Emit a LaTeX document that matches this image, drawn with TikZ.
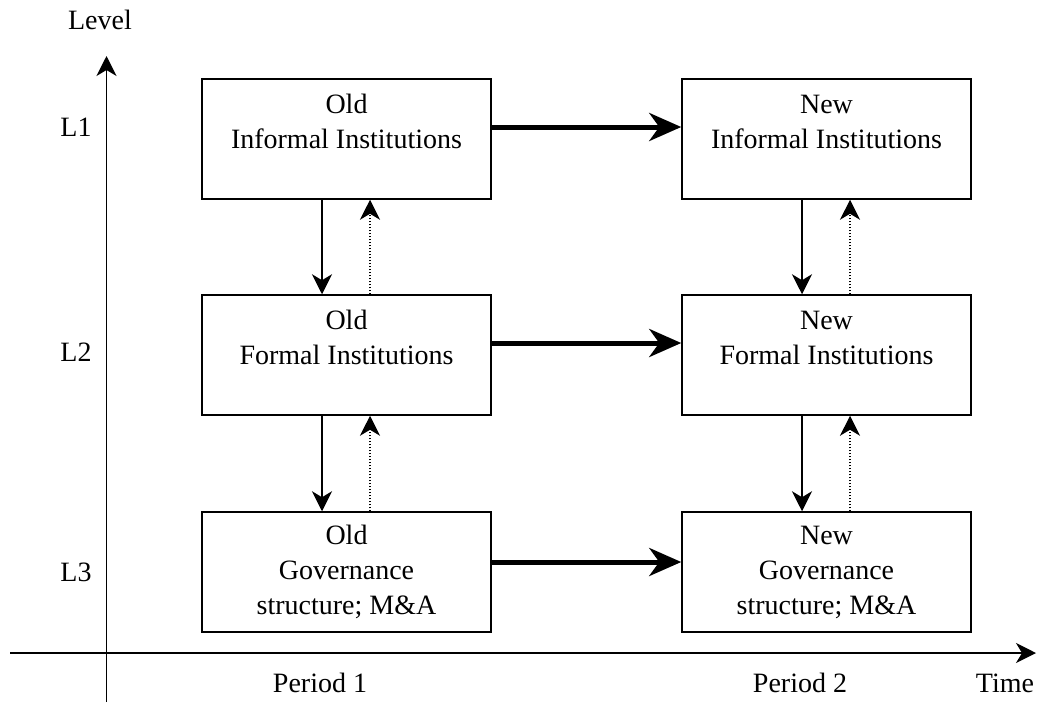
\documentclass[tikz,border=0pt]{standalone}
\usepackage{fontspec}
\setmainfont{Liberation Serif}
\usetikzlibrary{arrows.meta}
\begin{document}
\begin{tikzpicture}[x=1pt,y=-1pt,
  every node/.style={font=\fontsize{28}{35}\selectfont},
  inst/.style={draw,line width=1.5pt,minimum width=289pt,minimum height=120pt,align=center,inner sep=0pt},
  lbl/.style={inner sep=0pt},
  thinarrow/.style={line width=1.5pt,-{Stealth[length=20pt,width=20pt,inset=6pt]}},
  feedback/.style={line width=1.3pt,dash pattern=on 1.5pt off 1.5pt,-{Stealth[length=20pt,width=20pt,inset=6pt]}},
  periodshift/.style={line width=5pt,-{Stealth[length=32pt,width=28pt,inset=10pt]}},
  axis/.style={line width=1.5pt,-{Stealth[length=20pt,width=20pt,inset=6pt]}}]
\useasboundingbox (0,0) rectangle (1038,702);

% axes
\coordinate (xs) at (10,653);
\coordinate (xe) at (1036,653);
\coordinate (ys) at (106.5,702);
\coordinate (ye) at (106.5,56);
\draw[axis] (xs) -- (xe);
\draw[axis] (ys) -- (ye);

\node[lbl] (level) at (100,20) {Level};
\node[lbl] (l1) at (76,127) {L1};
\node[lbl] (l2) at (76,352) {L2};
\node[lbl] (l3) at (76,572) {L3};
\node[lbl] (p1) at (320,683) {Period 1};
\node[lbl] (p2) at (800,683) {Period 2};
\node[lbl] (time) at (1005,683) {Time};

% institution boxes (text set from the top, three line slots)
\node[inst] (oi) at (346.5,139) {Old\\Informal Institutions\\\mbox{}};
\node[inst] (of) at (346.5,355) {Old\\Formal Institutions\\\mbox{}};
\node[inst] (og) at (346.5,572) {Old\\Governance\\structure; M\&A};
\node[inst] (ni) at (826.5,139) {New\\Informal Institutions\\\mbox{}};
\node[inst] (nf) at (826.5,355) {New\\Formal Institutions\\\mbox{}};
\node[inst] (ng) at (826.5,572) {New\\Governance\\structure; M\&A};

% shifts over time
\draw[periodshift] ([yshift=12pt]oi.east) -- ([yshift=12pt]ni.west);
\draw[periodshift] ([yshift=12pt]of.east) -- ([yshift=12pt]nf.west);
\draw[periodshift] ([yshift=10pt]og.east) -- ([yshift=10pt]ng.west);

% downward constraints and upward feedback
\foreach \a/\b in {oi/of,of/og,ni/nf,nf/ng}{
  \draw[thinarrow] ([xshift=-24.5pt]\a.south) -- ([xshift=-24.5pt]\b.north);
  \draw[feedback] ([xshift=23.5pt]\b.north) -- ([xshift=23.5pt]\a.south);
}
\end{tikzpicture}
\end{document}
